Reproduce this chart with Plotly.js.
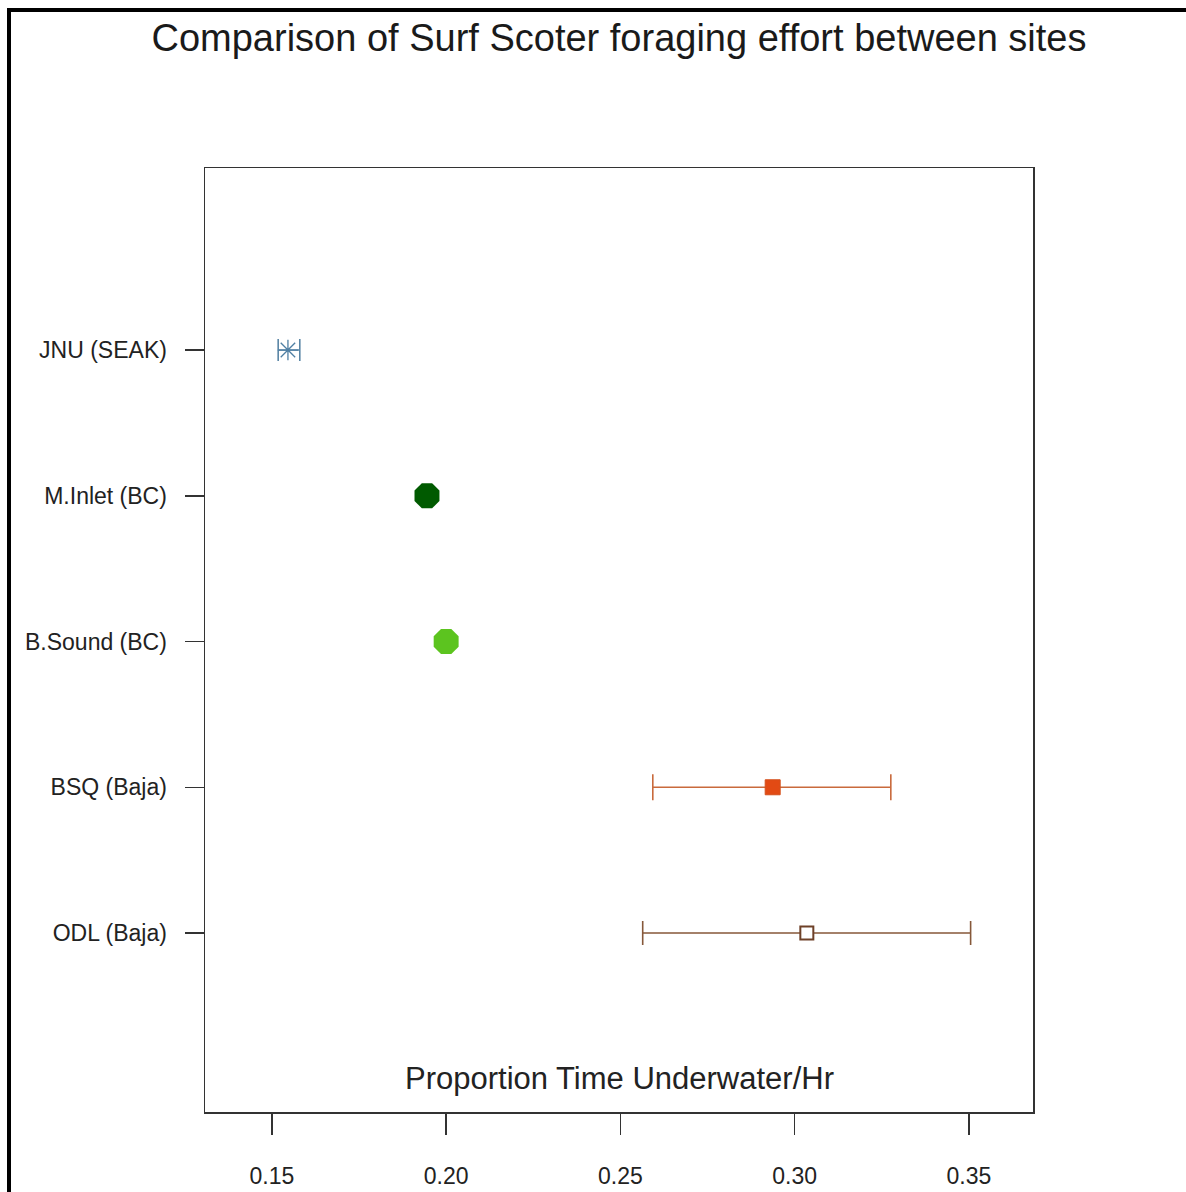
<!DOCTYPE html>
<html>
<head>
<meta charset="utf-8">
<script src="https://cdn.plot.ly/plotly-3.0.1.min.js"></script>
<style>html,body{margin:0;padding:0;background:#fff;} #chart{width:1186px;height:1192px;}</style>
</head>
<body>
<div id="chart"></div>
<script>
// Data
const sites = ["ODL (Baja)", "BSQ (Baja)", "B.Sound (BC)", "M.Inlet (BC)", "JNU (SEAK)"];
const siteOrder = ["ODL (Baja)", "BSQ (Baja)", "B.Sound (BC)", "M.Inlet (BC)", "JNU (SEAK)"];
const means = [0.3035, 0.2937, 0.2000, 0.1945, 0.1546];
const lowers = [0.2564, 0.2593, 0.2000, 0.1945, 0.1518];
const uppers = [0.3505, 0.3276, 0.2000, 0.1945, 0.1580];
const xTickVals = [0.15, 0.20, 0.25, 0.30, 0.35];
const xTickText = ["0.15", "0.20", "0.25", "0.30", "0.35"];

const styles = {
  "ODL (Baja)":   {symbol: "square", size: 13, color: "#ffffff", line: {color: "#6e4128", width: 2}, err: "#86583a", errW: 12, hasErr: true},
  "BSQ (Baja)":   {symbol: "square", size: 15, color: "#e24a14", line: {color: "#d4501c", width: 1}, err: "#c96a3c", errW: 13, hasErr: true},
  "B.Sound (BC)": {symbol: "octagon", size: 27, color: "#5cc41f", line: {color: "#5cc41f", width: 0}, err: "#5cc41f", errW: 0, hasErr: false},
  "M.Inlet (BC)": {symbol: "octagon", size: 27, color: "#005a00", line: {color: "#005a00", width: 0}, err: "#005a00", errW: 0, hasErr: false},
  "JNU (SEAK)":   {symbol: "asterisk-open", size: 17, color: "#4f7fa3", line: {color: "#4f7fa3", width: 1.3}, err: "#5a86a6", errW: 11, hasErr: true}
};

const traces = sites.map((s, i) => {
  const st = styles[s];
  return {
    type: "scatter",
    mode: "markers",
    x: [means[i]],
    y: [s],
    showlegend: false,
    hoverinfo: "x+y",
    marker: {symbol: st.symbol, size: st.size, color: st.color, line: st.line},
    error_x: {
      type: "data",
      symmetric: false,
      array: [uppers[i] - means[i]],
      arrayminus: [means[i] - lowers[i]],
      visible: st.hasErr,
      color: st.err,
      thickness: 1.6,
      width: st.errW
    }
  };
});

const axisLine = "#333333";
const layout = {
  width: 1186,
  height: 1192,
  margin: {l: 205, r: 153, t: 168, b: 80},
  paper_bgcolor: "#ffffff",
  plot_bgcolor: "#ffffff",
  font: {family: "Liberation Sans, Arial, sans-serif", color: "#222222"},
  title: {
    text: "Comparison of Surf Scoter foraging effort between sites",
    font: {family: "Liberation Sans, Arial, sans-serif", size: 38, color: "#1a1a1a"},
    x: 0.5, xref: "paper", xanchor: "center",
    y: 1 - 38 / 1192, yref: "container", yanchor: "middle"
  },
  xaxis: {
    range: [0.1308, 0.3684],
    tickmode: "array",
    tickvals: xTickVals,
    ticktext: xTickText,
    ticks: "outside",
    ticklen: 21,
    tickwidth: 1.5,
    tickcolor: axisLine,
    showline: true,
    linecolor: axisLine,
    linewidth: 1.5,
    mirror: true,
    showgrid: false,
    zeroline: false,
    ticklabelstandoff: 22,
    tickfont: {size: 23, color: "#222222"}
  },
  yaxis: {
    type: "category",
    categoryorder: "array",
    categoryarray: siteOrder,
    range: [-1.228, 5.249],
    ticks: "outside",
    ticklen: 19,
    tickwidth: 1.5,
    tickcolor: axisLine,
    showline: true,
    linecolor: axisLine,
    linewidth: 1.5,
    mirror: true,
    showgrid: false,
    zeroline: false,
    ticklabelstandoff: 13,
    tickfont: {size: 23, color: "#222222"}
  },
  annotations: [{
    text: "Proportion Time Underwater/Hr",
    xref: "paper", yref: "paper",
    x: 0.5, y: (1112 - 1078) / 944,
    xanchor: "center", yanchor: "middle",
    showarrow: false,
    font: {family: "Liberation Sans, Arial, sans-serif", size: 31, color: "#222222"}
  }],
  shapes: [
    {type: "line", xref: "paper", yref: "paper",
     x0: (9 - 205) / 828, x1: (1190 - 205) / 828,
     y0: (1112 - 10) / 944, y1: (1112 - 10) / 944,
     line: {color: "#000000", width: 4}},
    {type: "line", xref: "paper", yref: "paper",
     x0: (9 - 205) / 828, x1: (9 - 205) / 828,
     y0: (1112 - 8) / 944, y1: (1112 - 1200) / 944,
     line: {color: "#000000", width: 4}}
  ]
};

Plotly.newPlot("chart", traces, layout, {displayModeBar: false, staticPlot: true});
</script>
</body>
</html>
